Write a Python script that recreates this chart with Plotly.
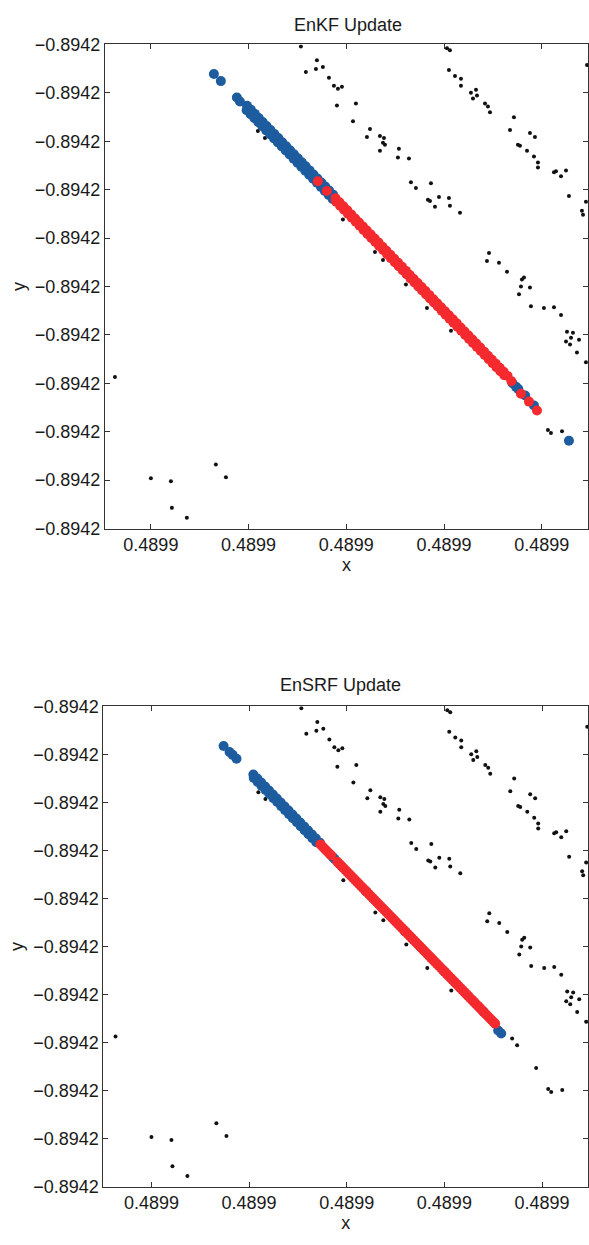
import plotly.graph_objects as go

# ---------------- data ----------------
X_TICKS = [0.489921, 0.489922, 0.489923, 0.489924, 0.489925]
X_TICK_LABELS = ["0.4899", "0.4899", "0.4899", "0.4899", "0.4899"]
Y_TICKS = [-0.894220, -0.894221, -0.894222, -0.894223, -0.894224, -0.894225,
           -0.894226, -0.894227, -0.894228, -0.894229, -0.894230]
Y_TICK_LABELS = ["−0.8942"] * 11

# background (black) points, same in both panels
BLACK_X = [0.489922535, 0.489922699, 0.489922586, 0.489922689, 0.489922760, 0.489922822,
           0.489922873, 0.489922914, 0.489922955, 0.489922904, 0.489923098, 0.489923068,
           0.489923242, 0.489923211, 0.489923344, 0.489923385, 0.489923375, 0.489923395,
           0.489923344, 0.489923538, 0.489923528, 0.489923641, 0.489923661, 0.489923712,
           0.489923866, 0.489923835, 0.489923856, 0.489923907, 0.489923948, 0.489924050,
           0.489924060, 0.489924163, 0.489922965, 0.489923293, 0.489923375, 0.489923610,
           0.489924030, 0.489924060, 0.489924050, 0.489924112, 0.489924173, 0.489924173,
           0.489924275, 0.489924327, 0.489924296, 0.489924337, 0.489924419, 0.489924449,
           0.489924470, 0.489924715, 0.489924675, 0.489924879, 0.489924930, 0.489924756,
           0.489924777, 0.489924849, 0.489924920, 0.489924961, 0.489924961, 0.489925125,
           0.489925145, 0.489925248, 0.489925197, 0.489925278, 0.489925411, 0.489925422,
           0.489925452, 0.489925463, 0.489924460, 0.489924439, 0.489924562, 0.489924644,
           0.489924818, 0.489924797, 0.489924787, 0.489924879, 0.489924767, 0.489924889,
           0.489923825, 0.489925022, 0.489925125, 0.489925197, 0.489924071, 0.489925258,
           0.489925319, 0.489925299, 0.489925248, 0.489925289, 0.489925381, 0.489925360,
           0.489925452, 0.489925063, 0.489925094, 0.489925207, 0.489920632, 0.489921000,
           0.489921205, 0.489921215, 0.489921368, 0.489921665, 0.489921768, 0.489922095,
           0.489922167, 0.489924694, 0.489924745, 0.489924940]
BLACK_Y = [-0.894220041, -0.894220325, -0.894220569, -0.894220508, -0.894220467, -0.894220691,
           -0.894220854, -0.894220915, -0.894220874, -0.894221260, -0.894221220, -0.894221585,
           -0.894221748, -0.894221911, -0.894221890, -0.894221931, -0.894222033, -0.894222073,
           -0.894222195, -0.894222154, -0.894222337, -0.894222358, -0.894222846, -0.894222967,
           -0.894222866, -0.894223211, -0.894223232, -0.894223354, -0.894223150, -0.894223171,
           -0.894223333, -0.894223476, -0.894223618, -0.894224289, -0.894224451, -0.894224959,
           -0.894220081, -0.894220122, -0.894220528, -0.894220650, -0.894220711, -0.894220854,
           -0.894220996, -0.894220935, -0.894221118, -0.894221057, -0.894221220, -0.894221280,
           -0.894221402, -0.894221504, -0.894221768, -0.894221829, -0.894221911, -0.894222073,
           -0.894222093, -0.894222195, -0.894222317, -0.894222439, -0.894222541, -0.894222642,
           -0.894222622, -0.894222602, -0.894222724, -0.894223130, -0.894223435, -0.894223516,
           -0.894223252, -0.894220427, -0.894224309, -0.894224472, -0.894224512, -0.894224695,
           -0.894224817, -0.894224858, -0.894225000, -0.894225020, -0.894225163, -0.894225407,
           -0.894225447, -0.894225447, -0.894225427, -0.894225589, -0.894225915, -0.894225935,
           -0.894225955, -0.894226057, -0.894226138, -0.894226199, -0.894226098, -0.894226362,
           -0.894226565, -0.894227967, -0.894228028, -0.894227988, -0.894226870, -0.894228963,
           -0.894229024, -0.894229573, -0.894229776, -0.894228679, -0.894228943, -0.894221789,
           -0.894221931, -0.894226912, -0.894227055, -0.894227527]

# ---- EnKF panel: prior ensemble (blue) ----
ENKF_PRIOR_X = [0.489921645, 0.489921716, 0.489921880, 0.489921911,
                0.489921984, 0.489921980, 0.489922024, 0.489922020, 0.489922064, 0.489922060,
                0.489922104, 0.489922100, 0.489922144, 0.489922140, 0.489922184, 0.489922180,
                0.489922224, 0.489922220, 0.489922264, 0.489922260, 0.489922304, 0.489922300,
                0.489922344, 0.489922340, 0.489922384, 0.489922380, 0.489922424, 0.489922420,
                0.489922464, 0.489922460, 0.489922504, 0.489922500, 0.489922544, 0.489922540,
                0.489922584, 0.489922580, 0.489922624, 0.489922620, 0.489922664, 0.489922660,
                0.489922704, 0.489922700, 0.489922744, 0.489922740, 0.489922784, 0.489922780,
                0.489922824, 0.489922820, 0.489922864, 0.489922860,
                0.489923100, 0.489923500, 0.489923900, 0.489924300, 0.489924600,
                0.489924700, 0.489924736, 0.489924760, 0.489924830, 0.489924920, 0.489925278]
ENKF_PRIOR_Y = [-0.894220610, -0.894220758, -0.894221098, -0.894221179,
                -0.894221268, -0.894221358, -0.894221351, -0.894221441, -0.894221435, -0.894221525,
                -0.894221518, -0.894221608, -0.894221602, -0.894221691, -0.894221685, -0.894221775,
                -0.894221768, -0.894221858, -0.894221852, -0.894221942, -0.894221935, -0.894222025,
                -0.894222019, -0.894222108, -0.894222102, -0.894222192, -0.894222185, -0.894222275,
                -0.894222269, -0.894222359, -0.894222352, -0.894222442, -0.894222436, -0.894222525,
                -0.894222519, -0.894222609, -0.894222602, -0.894222692, -0.894222686, -0.894222776,
                -0.894222769, -0.894222859, -0.894222853, -0.894222942, -0.894222936, -0.894223026,
                -0.894223019, -0.894223109, -0.894223103, -0.894223192,
                -0.894223644, -0.894224478, -0.894225312, -0.894226146, -0.894226771,
                -0.894227000, -0.894227073, -0.894227120, -0.894227250, -0.894227459, -0.894228185]

# ---- EnKF panel: updated ensemble (red) ----
ENKF_POST_X = [0.489922709, 0.489922801,
               0.489922890, 0.489922930, 0.489922970, 0.489923010, 0.489923050, 0.489923090,
               0.489923130, 0.489923170, 0.489923210, 0.489923250, 0.489923290, 0.489923330,
               0.489923370, 0.489923410, 0.489923450, 0.489923490, 0.489923530, 0.489923570,
               0.489923610, 0.489923650, 0.489923690, 0.489923730, 0.489923770, 0.489923810,
               0.489923850, 0.489923890, 0.489923930, 0.489923970, 0.489924010, 0.489924050,
               0.489924090, 0.489924130, 0.489924170, 0.489924210, 0.489924250, 0.489924290,
               0.489924330, 0.489924370, 0.489924410, 0.489924450, 0.489924490, 0.489924530,
               0.489924570, 0.489924610, 0.489924650,
               0.489922896, 0.489922936, 0.489922976, 0.489923016, 0.489923056, 0.489923096,
               0.489923136, 0.489923176, 0.489923216, 0.489923256, 0.489923296, 0.489923336,
               0.489923376, 0.489923416, 0.489923456, 0.489923496, 0.489923536, 0.489923576,
               0.489923616, 0.489923656, 0.489923696, 0.489923736, 0.489923776, 0.489923816,
               0.489923856, 0.489923896, 0.489923936, 0.489923976, 0.489924016, 0.489924056,
               0.489924096, 0.489924136, 0.489924176, 0.489924216, 0.489924256, 0.489924296,
               0.489924336, 0.489924376, 0.489924416, 0.489924456, 0.489924496, 0.489924536,
               0.489924576, 0.489924616,
               0.489924690, 0.489924787, 0.489924869, 0.489924951]
ENKF_POST_Y = [-0.894222825, -0.894223028,
               -0.894223177, -0.894223260, -0.894223344, -0.894223427, -0.894223511, -0.894223594,
               -0.894223677, -0.894223761, -0.894223844, -0.894223928, -0.894224011, -0.894224094,
               -0.894224178, -0.894224261, -0.894224345, -0.894224428, -0.894224511, -0.894224595,
               -0.894224678, -0.894224762, -0.894224845, -0.894224928, -0.894225012, -0.894225095,
               -0.894225179, -0.894225262, -0.894225345, -0.894225429, -0.894225512, -0.894225596,
               -0.894225679, -0.894225762, -0.894225846, -0.894225929, -0.894226013, -0.894226096,
               -0.894226179, -0.894226263, -0.894226346, -0.894226430, -0.894226513, -0.894226596,
               -0.894226680, -0.894226763, -0.894226847,
               -0.894223247, -0.894223330, -0.894223414, -0.894223497, -0.894223581, -0.894223664,
               -0.894223747, -0.894223831, -0.894223914, -0.894223998, -0.894224081, -0.894224164,
               -0.894224248, -0.894224331, -0.894224415, -0.894224498, -0.894224581, -0.894224665,
               -0.894224748, -0.894224832, -0.894224915, -0.894224998, -0.894225082, -0.894225165,
               -0.894225249, -0.894225332, -0.894225415, -0.894225499, -0.894225582, -0.894225666,
               -0.894225749, -0.894225832, -0.894225916, -0.894225999, -0.894226083, -0.894226166,
               -0.894226249, -0.894226333, -0.894226416, -0.894226500, -0.894226583, -0.894226666,
               -0.894226750, -0.894226833,
               -0.894226959, -0.894227215, -0.894227378, -0.894227561]

# ---- EnSRF panel: prior ensemble (blue) ----
ENSRF_PRIOR_X = [0.489921739, 0.489921800, 0.489921831, 0.489921871,
                 0.489922044, 0.489922048, 0.489922084, 0.489922088, 0.489922124, 0.489922128,
                 0.489922164, 0.489922168, 0.489922204, 0.489922208, 0.489922244, 0.489922248,
                 0.489922284, 0.489922288, 0.489922324, 0.489922328, 0.489922364, 0.489922368,
                 0.489922404, 0.489922408, 0.489922444, 0.489922448, 0.489922484, 0.489922488,
                 0.489922524, 0.489922528, 0.489922564, 0.489922568, 0.489922604, 0.489922608,
                 0.489922644, 0.489922648, 0.489922684, 0.489922688, 0.489922724,
                 0.489922856, 0.489922876, 0.489923200, 0.489923600, 0.489924000, 0.489924400,
                 0.489924551, 0.489924582]
ENSRF_PRIOR_Y = [-0.894220826, -0.894220949, -0.894221010, -0.894221092,
                 -0.894221419, -0.894221493, -0.894221502, -0.894221576, -0.894221586, -0.894221660,
                 -0.894221669, -0.894221743, -0.894221753, -0.894221826, -0.894221836, -0.894221910,
                 -0.894221919, -0.894221993, -0.894222003, -0.894222077, -0.894222086, -0.894222160,
                 -0.894222170, -0.894222243, -0.894222253, -0.894222327, -0.894222336, -0.894222410,
                 -0.894222420, -0.894222494, -0.894222503, -0.894222577, -0.894222587, -0.894222660,
                 -0.894222670, -0.894222744, -0.894222753, -0.894222827, -0.894222837,
                 -0.894223135, -0.894223176, -0.894223852, -0.894224686, -0.894225520, -0.894226354,
                 -0.894226748, -0.894226809]

# ---- EnSRF panel: updated ensemble (red) ----
ENSRF_POST_X = [0.489922731, 0.489922751, 0.489922771, 0.489922791, 0.489922811, 0.489922831,
                0.489922840,
                0.489922903, 0.489922923, 0.489922943, 0.489922963, 0.489922983, 0.489923003,
                0.489923023, 0.489923043, 0.489923063, 0.489923083, 0.489923103, 0.489923123,
                0.489923143, 0.489923163, 0.489923183, 0.489923203, 0.489923223, 0.489923243,
                0.489923263, 0.489923283, 0.489923303, 0.489923323, 0.489923343, 0.489923363,
                0.489923383, 0.489923403, 0.489923423, 0.489923443, 0.489923463, 0.489923483,
                0.489923503, 0.489923523, 0.489923543, 0.489923563, 0.489923583, 0.489923603,
                0.489923623, 0.489923643, 0.489923663, 0.489923683, 0.489923703, 0.489923723,
                0.489923743, 0.489923763, 0.489923783, 0.489923803, 0.489923823, 0.489923843,
                0.489923863, 0.489923883, 0.489923903, 0.489923923, 0.489923943, 0.489923963,
                0.489923983, 0.489924003, 0.489924023, 0.489924043, 0.489924063, 0.489924083,
                0.489924103, 0.489924123, 0.489924143, 0.489924163, 0.489924183, 0.489924203,
                0.489924223, 0.489924243, 0.489924263, 0.489924283, 0.489924303, 0.489924323,
                0.489924343, 0.489924363, 0.489924383, 0.489924403, 0.489924423, 0.489924443,
                0.489924463, 0.489924483, 0.489924503, 0.489924520]
ENSRF_POST_Y = [-0.894222874, -0.894222916, -0.894222958, -0.894222999, -0.894223041, -0.894223083,
                -0.894223101,
                -0.894223233, -0.894223275, -0.894223316, -0.894223358, -0.894223400, -0.894223442,
                -0.894223483, -0.894223525, -0.894223567, -0.894223608, -0.894223650, -0.894223692,
                -0.894223733, -0.894223775, -0.894223817, -0.894223859, -0.894223900, -0.894223942,
                -0.894223984, -0.894224025, -0.894224067, -0.894224109, -0.894224150, -0.894224192,
                -0.894224234, -0.894224276, -0.894224317, -0.894224359, -0.894224401, -0.894224442,
                -0.894224484, -0.894224526, -0.894224567, -0.894224609, -0.894224651, -0.894224693,
                -0.894224734, -0.894224776, -0.894224818, -0.894224859, -0.894224901, -0.894224943,
                -0.894224984, -0.894225026, -0.894225068, -0.894225110, -0.894225151, -0.894225193,
                -0.894225235, -0.894225276, -0.894225318, -0.894225360, -0.894225401, -0.894225443,
                -0.894225485, -0.894225527, -0.894225568, -0.894225610, -0.894225652, -0.894225693,
                -0.894225735, -0.894225777, -0.894225818, -0.894225860, -0.894225902, -0.894225944,
                -0.894225985, -0.894226027, -0.894226069, -0.894226110, -0.894226152, -0.894226194,
                -0.894226235, -0.894226277, -0.894226319, -0.894226361, -0.894226402, -0.894226444,
                -0.894226486, -0.894226527, -0.894226569, -0.894226604]

TITLES = ["EnKF Update", "EnSRF Update"]

# ---------------- styling ----------------
FONT = "Liberation Sans, Arial, Helvetica, sans-serif"
TXT = "#1a1a1a"
AX = "#333333"
BLUE = "#1d5c9e"
RED = "#f42a2f"
BLACKC = "#111111"

fig = go.Figure()

panels = [
    ("x", "y", ENKF_PRIOR_X, ENKF_PRIOR_Y, ENKF_POST_X, ENKF_POST_Y),
    ("x2", "y2", ENSRF_PRIOR_X, ENSRF_PRIOR_Y, ENSRF_POST_X, ENSRF_POST_Y),
]
for xa, ya, px, py, qx, qy in panels:
    fig.add_trace(go.Scatter(x=BLACK_X, y=BLACK_Y, mode="markers", xaxis=xa, yaxis=ya,
                             marker=dict(size=4, color=BLACKC, line=dict(width=0)),
                             name="truth samples", showlegend=False))
    fig.add_trace(go.Scatter(x=px, y=py, mode="markers", xaxis=xa, yaxis=ya,
                             marker=dict(size=10, color=BLUE, line=dict(width=0)),
                             name="prior ensemble", showlegend=False))
    fig.add_trace(go.Scatter(x=qx, y=qy, mode="markers", xaxis=xa, yaxis=ya,
                             marker=dict(size=10, color=RED, line=dict(width=0)),
                             name="analysis ensemble", showlegend=False))


def xax(domain, rng, anchor):
    return dict(domain=domain, range=rng, anchor=anchor,
                tickvals=X_TICKS, ticktext=X_TICK_LABELS,
                showline=True, linecolor=AX, linewidth=1, mirror="ticks",
                ticks="inside", ticklen=5, tickcolor=AX, tickwidth=1,
                showgrid=False, zeroline=False,
                tickfont=dict(family=FONT, size=18, color=TXT),
                title=dict(text="x", font=dict(family=FONT, size=18, color=TXT), standoff=2))


def yax(domain, anchor):
    return dict(domain=domain, range=[-0.894230, -0.894220], anchor=anchor,
                tickvals=Y_TICKS, ticktext=Y_TICK_LABELS,
                showline=True, linecolor=AX, linewidth=1, mirror="ticks",
                ticks="inside", ticklen=5, tickcolor=AX, tickwidth=1,
                showgrid=False, zeroline=False,
                tickfont=dict(family=FONT, size=18, color=TXT),
                title=dict(text="y", font=dict(family=FONT, size=18, color=TXT), standoff=4))


fig.update_layout(
    width=589, height=1245,
    margin=dict(l=0, r=0, t=0, b=0),
    paper_bgcolor="white", plot_bgcolor="white",
    showlegend=False,
    xaxis=xax([0.1783, 1.0], [0.489920529, 0.489925473], "y"),
    yaxis=yax([0.5767, 0.9719], "x"),
    xaxis2=xax([0.1757, 1.0], [0.489920507, 0.489925471], "y2"),
    yaxis2=yax([0.03936, 0.43157], "x2"),
    annotations=[
        dict(text=TITLES[0], x=349 / 589, y=(1245 - 15) / 1245, xref="paper", yref="paper",
             xanchor="center", yanchor="middle", showarrow=False,
             font=dict(family=FONT, size=18, color=TXT)),
        dict(text=TITLES[1], x=341 / 589, y=(1245 - 686) / 1245, xref="paper", yref="paper",
             xanchor="center", yanchor="middle", showarrow=False,
             font=dict(family=FONT, size=18, color=TXT)),
    ],
)

fig.write_html("out.html")
